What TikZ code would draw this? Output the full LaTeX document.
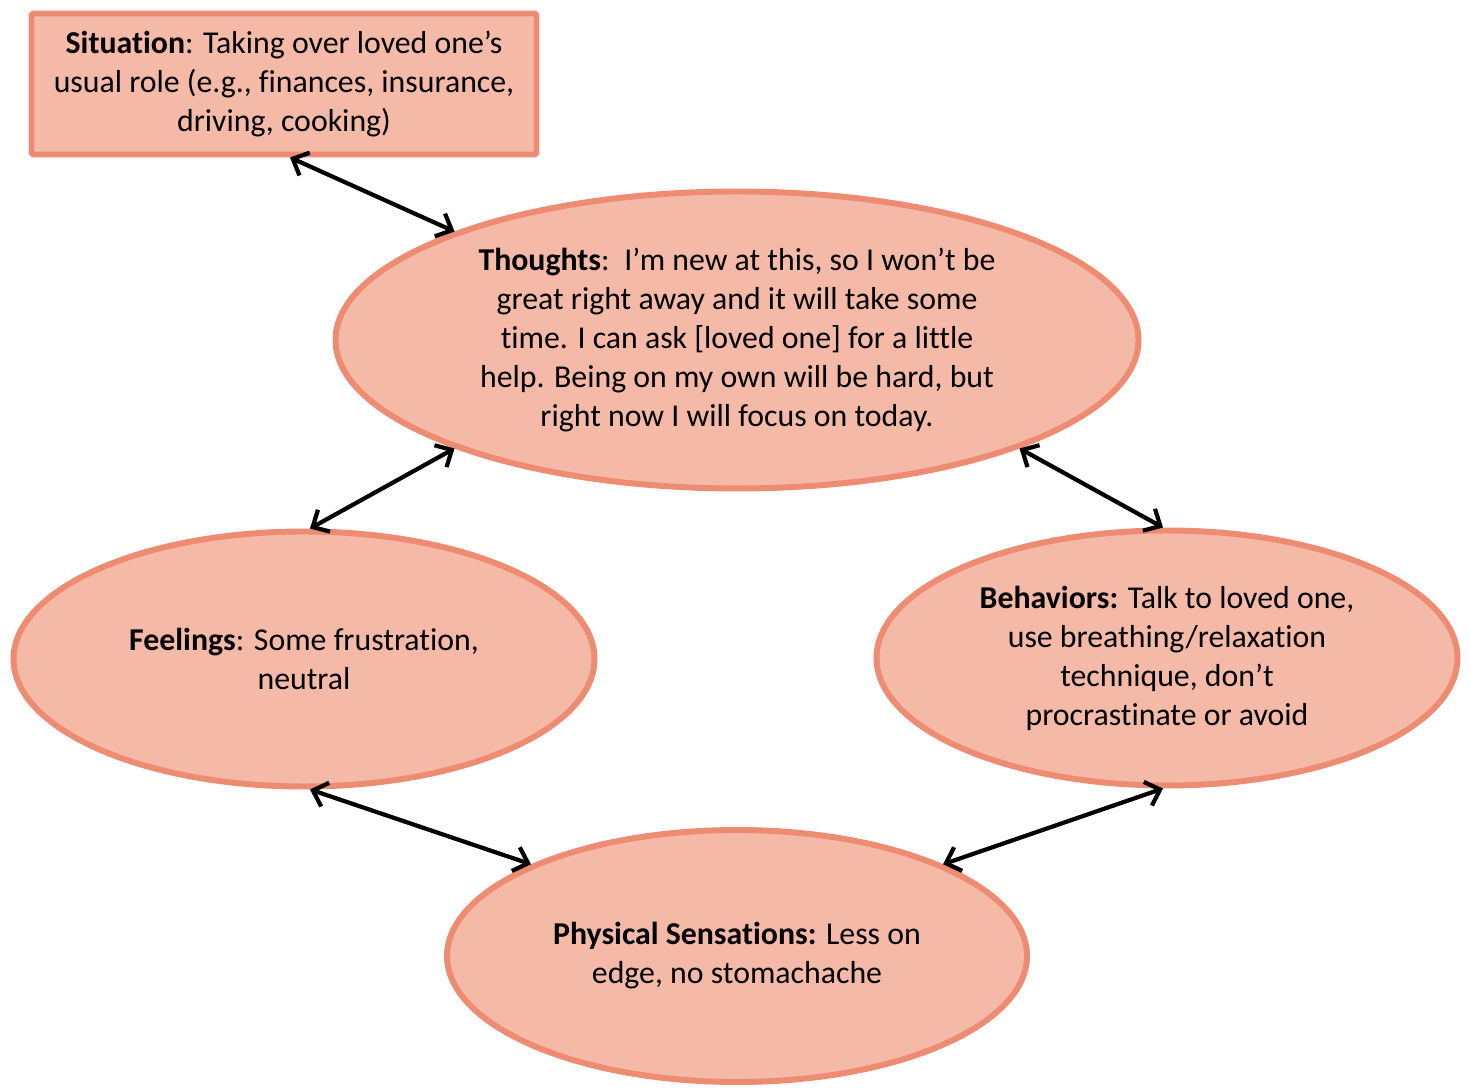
\documentclass[tikz,border=0pt]{standalone}
\usepackage{fontspec}
\setmainfont{Carlito}[Ligatures={NoCommon,NoContextual}]
\usepackage{tikz}
\usetikzlibrary{arrows.meta, shapes.geometric}
\definecolor{boxfill}{HTML}{F4B9A7}
\definecolor{boxline}{HTML}{EE8C73}

\begin{document}
\begin{tikzpicture}[
    every node/.style={font=\fontsize{18.1}{22.2}\selectfont, align=center, inner sep=0pt},
    cbtbox/.style={draw=boxline, fill=boxfill, line width=3.4pt},
    cbtoval/.style={cbtbox, ellipse},
    link/.style={<->, >={Straight Barb[length=2.6mm,width=5mm]}, line width=2.4pt, black}]
\useasboundingbox (0,0) rectangle (29.42,21.76);

% situation box
\node[cbtbox, rounded corners=1pt, minimum width=10.1cm, minimum height=2.82cm] (sit) at (5.68,20.08)
  {\textbf{Situation}: Taking over loved one's\\usual role (e.g., finances, insurance,\\driving, cooking)};

% the four ovals
\node[cbtoval, minimum width=16.06cm, minimum height=5.94cm] (th) at (14.74,14.96)
  {\textbf{Thoughts}:\, I'm new at this, so I won't be\\great right away and it will take some\\time. I can ask [loved one] for a little\\help. Being on my own will be hard, but\\right now I will focus on today.};
\node[cbtoval, minimum width=11.62cm, minimum height=5.1cm] (fe) at (6.08,8.58)
  {\textbf{Feelings}: Some frustration,\\neutral};
\node[cbtoval, minimum width=11.62cm, minimum height=5.1cm] (be) at (23.34,8.60)
  {\textbf{Behaviors:} Talk to loved one,\\use breathing/relaxation\\technique, don't\\procrastinate or avoid};
\node[cbtoval, minimum width=11.6cm, minimum height=5.04cm] (ph) at (14.74,2.64)
  {\textbf{Physical Sensations:} Less on\\edge, no stomachache};

% links
\draw[link] ([xshift=1.2mm]sit.south) -- (th.159);
\draw[link] (th.201) -- ([xshift=1.2mm]fe.north);
\draw[link] (th.-21) -- ([xshift=-0.8mm]be.north);
\draw[link] ([xshift=1.2mm]fe.south) -- (ph.156);
\draw[link] ([xshift=-0.8mm]be.south) -- (ph.24);
\end{tikzpicture}
\end{document}
